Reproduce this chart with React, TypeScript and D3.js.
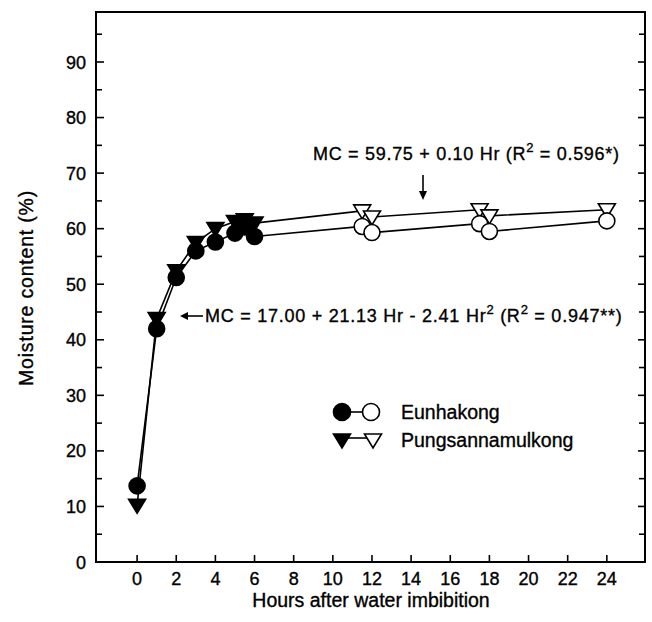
import React from 'react';
import * as d3 from 'd3';

// Hours after water imbibition and moisture content (%)
const hours = [0, 1, 2, 3, 4, 5, 5.5, 6, 11.5, 12, 17.5, 18, 24];
const eunhakong = [13.7, 42, 51.2, 56, 57.6, 59.2, 60.3, 58.6, 60.4, 59.3, 60.9, 59.5, 61.4];
const pungsan = [10.2, 43.8, 52.4, 57.5, 60, 61.3, 61.6, 61, 63.2, 62.1, 63.4, 62.3, 63.4];
const hollowFrom = 11; // points after this hour are drawn hollow

const xTicks = [0, 2, 4, 6, 8, 10, 12, 14, 16, 18, 20, 22, 24];
const yTicks = [0, 10, 20, 30, 40, 50, 60, 70, 80, 90];
const yMinor = d3.range(5, 100, 10);

const FONT = 'Arial, "Liberation Sans", Helvetica, sans-serif';

const left = 96, right = 645, top = 12, bottom = 562;

const triPath = 'M-8.5,-6L8.5,-6L0,8Z';

// scanned text looks a bit heavier than a plain regular weight
const heavy = { stroke: '#000', strokeWidth: 0.35 };

const App = () => {
  const x = d3.scaleLinear().domain([-2.1, 25.95]).range([left, right]);
  const y = d3.scaleLinear().domain([0, 99]).range([bottom, top]);

  const line = d3.line<number>()
    .x((_, i) => x(hours[i]))
    .y(d => y(d));

  return (
    <svg width={652} height={622} style={{ position: 'absolute', left: 0, top: 0, background: '#fff' }}
      fontFamily={FONT}>
      {/* frame */}
      <rect x={left} y={top} width={right - left} height={bottom - top} fill="none" stroke="#000" strokeWidth={2} />

      {/* x ticks */}
      {xTicks.map(t => (
        <g key={'x' + t}>
          <line x1={x(t)} x2={x(t)} y1={bottom} y2={bottom - 7} stroke="#000" strokeWidth={1.6} />
          <text x={x(t)} y={585} textAnchor="middle" fontSize={18} {...heavy}>{t}</text>
        </g>
      ))}

      {/* y ticks */}
      {yTicks.map(t => (
        <g key={'y' + t}>
          <line x1={left} x2={left + 8} y1={y(t)} y2={y(t)} stroke="#000" strokeWidth={1.6} />
          <line x1={right} x2={right - 7} y1={y(t)} y2={y(t)} stroke="#000" strokeWidth={1.6} />
          <text x={86} y={y(t) + 6.5} textAnchor="end" fontSize={18} {...heavy}>{t}</text>
        </g>
      ))}
      {yMinor.map(t => (
        <g key={'ym' + t}>
          <line x1={left} x2={left + 6} y1={y(t)} y2={y(t)} stroke="#000" strokeWidth={1.6} />
          <line x1={right} x2={right - 6} y1={y(t)} y2={y(t)} stroke="#000" strokeWidth={1.6} />
        </g>
      ))}

      {/* axis titles */}
      <text x={371} y={607} textAnchor="middle" fontSize={19.5} {...heavy}>Hours after water imbibition</text>
      <text transform={`translate(33,${288}) rotate(-90)`} textAnchor="middle" fontSize={19.5}
        letterSpacing={0.8} {...heavy}>Moisture content (%)</text>

      {/* lines */}
      <path d={line(eunhakong) || ''} fill="none" stroke="#000" strokeWidth={1.6} />
      <path d={line(pungsan) || ''} fill="none" stroke="#000" strokeWidth={1.6} />

      {/* triangles */}
      {pungsan.map((v, i) => (
        <path key={'p' + i} d={triPath} transform={`translate(${x(hours[i])},${y(v)})`}
          fill={hours[i] > hollowFrom ? '#fff' : '#000'} stroke="#000" strokeWidth={1.6} />
      ))}
      {/* circles */}
      {eunhakong.map((v, i) => (
        <circle key={'e' + i} cx={x(hours[i])} cy={y(v)} r={8}
          fill={hours[i] > hollowFrom ? '#fff' : '#000'} stroke="#000" strokeWidth={1.6} />
      ))}

      {/* equation annotations */}
      <text x={313} y={160} fontSize={18} letterSpacing={0.7} {...heavy}>
        MC = 59.75 + 0.10 Hr (R<tspan dy={-8} fontSize={13}>2</tspan><tspan dy={8}> = 0.596*)</tspan>
      </text>
      <line x1={423} x2={423} y1={175} y2={194} stroke="#000" strokeWidth={1.6} />
      <path d="M419,191L427,191L423,200Z" fill="#000" />

      <line x1={186} x2={203} y1={316} y2={316} stroke="#000" strokeWidth={1.6} />
      <path d="M180,316L188,312L188,320Z" fill="#000" />
      <text x={205} y={322} fontSize={18} letterSpacing={0.75} {...heavy}>
        MC = 17.00 + 21.13 Hr - 2.41 Hr<tspan dy={-8} fontSize={13}>2</tspan>
        <tspan dy={8}> (R</tspan><tspan dy={-8} fontSize={13}>2</tspan><tspan dy={8}> = 0.947**)</tspan>
      </text>

      {/* legend */}
      <line x1={342} x2={371} y1={412} y2={412} stroke="#000" strokeWidth={1.6} />
      <circle cx={342} cy={412} r={8.5} fill="#000" stroke="#000" strokeWidth={1.6} />
      <circle cx={371} cy={412} r={8.5} fill="#fff" stroke="#000" strokeWidth={1.6} />
      <text x={401} y={419} fontSize={19.5} {...heavy}>Eunhakong</text>

      <line x1={342} x2={373} y1={438} y2={438} stroke="#000" strokeWidth={1.6} />
      <path d={triPath} transform="translate(342,440)" fill="#000" stroke="#000" strokeWidth={1.6} />
      <path d={triPath} transform="translate(373,440)" fill="#fff" stroke="#000" strokeWidth={1.6} />
      <text x={401} y={447} fontSize={19.5} {...heavy}>Pungsannamulkong</text>
    </svg>
  );
};

export default App;
